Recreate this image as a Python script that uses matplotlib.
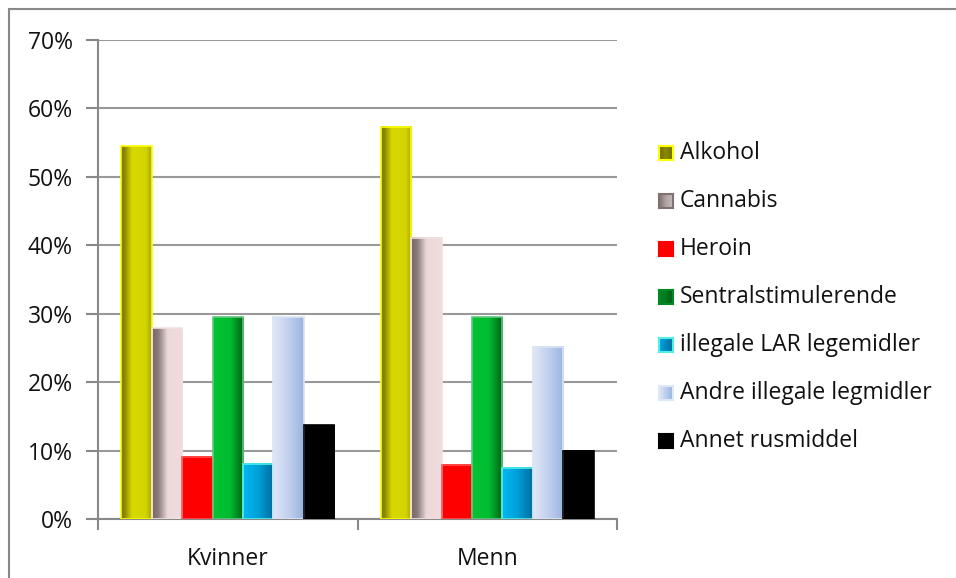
import numpy as np
import matplotlib.pyplot as plt
from matplotlib.colors import LinearSegmentedColormap
from matplotlib.patches import Rectangle

plt.rcParams['font.family'] = ['Open Sans', 'DejaVu Sans']

groups = ['Kvinner', 'Menn']
series = ['Alkohol', 'Cannabis', 'Heroin', 'Sentralstimulerende',
          'illegale LAR legemidler', 'Andre illegale legmidler', 'Annet rusmiddel']
kvinner = [54.5, 27.9, 9.1, 29.5, 8.1, 29.5, 13.7]
menn = [57.3, 41.1, 7.9, 29.5, 7.5, 25.2, 10.0]
yticks = [0, 10, 20, 30, 40, 50, 60, 70]

# horizontal gradient stops (position, colour) per series, plus edge colour
fills = [
    ([(0, '#787800'), (0.12, '#8a8a00'), (0.35, '#d8d800'), (0.8, '#d4d400'), (1, '#a8a800')], '#ffff00'),
    ([(0, '#786868'), (0.2, '#8a7a7a'), (0.5, '#ecd8d8'), (1, '#f0dcdc')], '#f2e0e0'),
    ([(0, '#ff0000'), (1, '#ff0000')], '#ff5050'),
    ([(0, '#00c434'), (0.55, '#00bc30'), (0.8, '#008a22'), (1, '#005c16')], '#60c880'),
    ([(0, '#00b8f4'), (0.5, '#00a0d8'), (1, '#006c9c')], '#50f0e8'),
    ([(0, '#e0e8f6'), (0.5, '#c2d0ee'), (1, '#98b4e2')], '#dce4f4'),
    ([(0, '#000000'), (1, '#000000')], '#000000'),
]
# legend swatches are drawn in the darker tones
swatches = [
    ['#6e6e00', '#8a8a00', '#6e6e00'],
    ['#807070', '#b0a4a4', '#c8baba'],
    ['#ff0000', '#ff0000'],
    ['#008a22', '#007a1e', '#005c16'],
    ['#00a8e8', '#0088c0', '#006c9c'],
    ['#e0e8f6', '#98b4e2'],
    ['#000000', '#000000'],
]
cmaps = [LinearSegmentedColormap.from_list('c%d' % i, f[0]) for i, f in enumerate(fills)]
scmaps = [LinearSegmentedColormap.from_list('s%d' % i, c) for i, c in enumerate(swatches)]
grad = np.linspace(0, 1, 128).reshape(1, -1)

fig = plt.figure(figsize=(9.56, 5.78), dpi=100)
ax = fig.add_axes([98 / 956, 1 - 519 / 578, 519 / 956, 479 / 578])

n = len(series)
group_w = 0.82
w = group_w / n
x = np.arange(len(groups))
data = np.array([kvinner, menn])

for g in range(len(groups)):
    for i in range(n):
        left = x[g] - group_w / 2 + i * w
        h = data[g, i]
        ax.imshow(grad, cmap=cmaps[i], aspect='auto', extent=[left, left + w, 0, h],
                  zorder=3, interpolation='bilinear')
        ax.add_patch(Rectangle((left, 0), w, h, fill=False, edgecolor=fills[i][1],
                               lw=1.2, zorder=4))

ax.set_xlim(-0.5, 1.5)
ax.set_ylim(0, 70)
ax.set_yticks(yticks)
ax.set_yticklabels(['%d%%' % t for t in yticks], fontsize=16.5, color='#111111')
ax.set_xticks([-0.5, 0.5, 1.5])
ax.set_xticklabels([])
ax.set_xticks(x, minor=True)
ax.set_xticklabels(groups, minor=True, fontsize=16.5, color='#111111')
ax.tick_params(axis='x', which='minor', length=0, pad=20)
ax.tick_params(axis='x', which='major', length=8, color='#888888', width=1.5)
ax.tick_params(axis='y', length=9, color='#888888', width=1.5, pad=9)
ax.grid(axis='y', color='#999999', lw=1.5, zorder=0)
for s in ['top', 'right']:
    ax.spines[s].set_visible(False)
for s in ['left', 'bottom']:
    ax.spines[s].set_color('#888888')
    ax.spines[s].set_linewidth(1.5)

# legend with gradient swatches
for i, name in enumerate(series):
    yc = 1 - (153 + i * 48.0) / 578
    sax = fig.add_axes([659 / 956, yc - 7 / 578, 14 / 956, 14 / 578])
    sax.imshow(grad, cmap=scmaps[i], aspect='auto', extent=[0, 1, 0, 1])
    sax.set_xlim(0, 1)
    sax.set_ylim(0, 1)
    sax.set_xticks([])
    sax.set_yticks([])
    for sp in sax.spines.values():
        sp.set_color(fills[i][1] if i in (0, 4) else swatches[i][0])
        sp.set_linewidth(1.5)
    fig.text(680 / 956, yc, name, fontsize=16.5, va='center', ha='left', color='#111111')

# chart border
fig.add_artist(Rectangle((9 / 956, -0.1), 1.1, 1 - 9 / 578 + 0.1, transform=fig.transFigure,
                         fill=False, edgecolor='#888888', lw=1.5))

fig.savefig('out.png', dpi=100)
